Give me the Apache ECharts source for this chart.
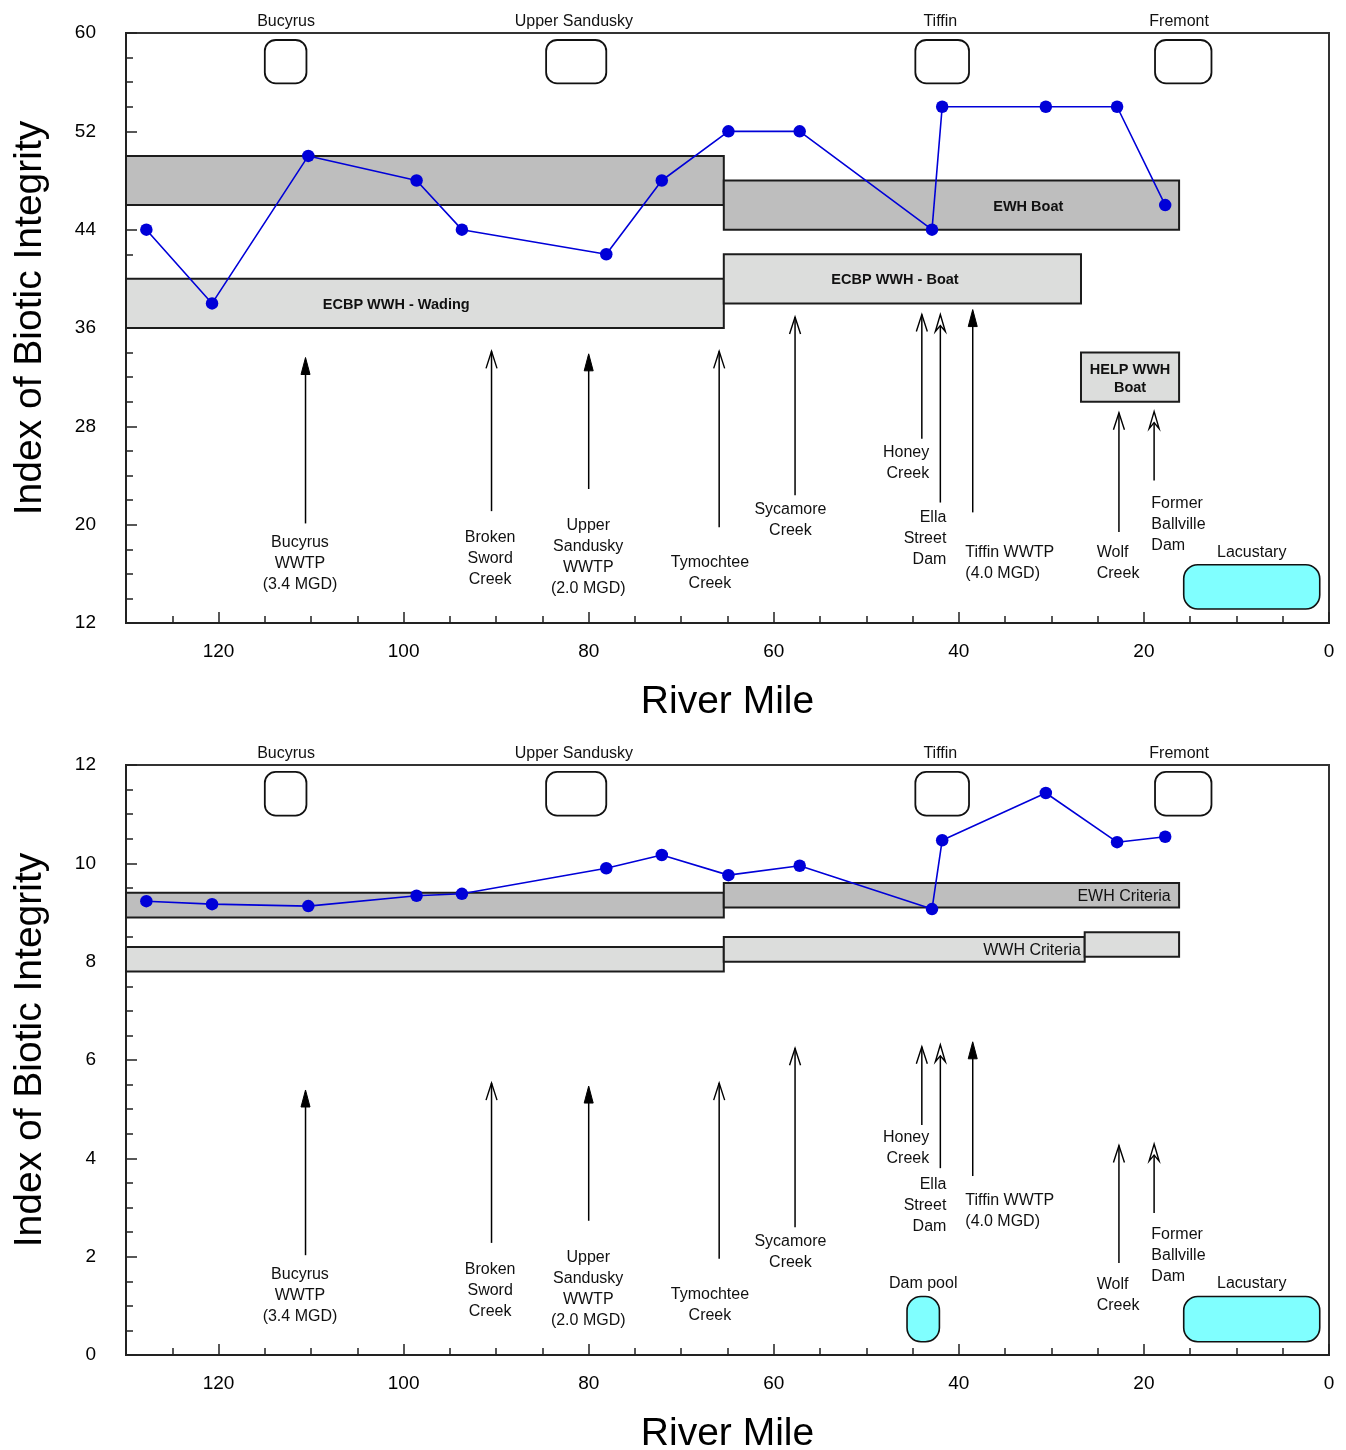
<!DOCTYPE html>
<html>
<head>
<meta charset="utf-8">
<script src="https://cdn.jsdelivr.net/npm/echarts@6/dist/echarts.min.js"></script>
<style>
  html, body { margin: 0; padding: 0; background: #fff; overflow: hidden; }
  #chart { width: 1346px; height: 1450px; }
</style>
</head>
<body>
<div id="chart"></div>
<script>
// ---------------------------------------------------------------------------
// Data
// ---------------------------------------------------------------------------

// Sampling sites by river mile (upstream sites on the left)
const siteMiles = [127.8, 120.7, 110.3, 98.6, 93.7, 78.1, 72.1, 64.9, 57.2, 42.9, 41.8, 30.6, 22.9, 17.7];
// Index scores at each site, upper and lower panel
const upperScores = [44, 38, 50, 48, 44, 42, 48, 52, 52, 44, 54, 54, 54, 46];
const lowerScores = [9.23, 9.17, 9.13, 9.34, 9.38, 9.9, 10.17, 9.76, 9.95, 9.07, 10.47, 11.43, 10.43, 10.54];

// Axis ranges and tick labels
const mileRange = [0, 130];
const mileTicks = [120, 100, 80, 60, 40, 20, 0];
const upperTicks = [12, 20, 28, 36, 44, 52, 60];
const lowerTicks = [0, 2, 4, 6, 8, 10, 12];

// Criteria ranges: [upstream mile, downstream mile, low, high, tier, caption, caption mile]
const upperCriteria = [
  [130, 65.4, 46, 50, 'EWH', '', 0],
  [130, 65.4, 36, 40, 'WWH', 'ECBP WWH - Wading', 100.8],
  [65.4, 16.2, 44, 48, 'EWH', 'EWH Boat', 32.5],
  [65.4, 26.8, 38, 42, 'WWH', 'ECBP WWH - Boat', 46.9],
  [26.8, 16.2, 30, 34, 'WWH', 'HELP WWH\nBoat', 21.5]
];
const lowerCriteria = [
  [130, 65.4, 8.9, 9.4, 'EWH', '', 0],
  [65.4, 16.2, 9.1, 9.6, 'EWH', 'EWH Criteria', 17.1],
  [130, 65.4, 7.8, 8.3, 'WWH', '', 0],
  [65.4, 26.4, 8.0, 8.5, 'WWH', 'WWH Criteria', 26.8],
  [26.4, 16.2, 8.1, 8.6, 'WWH', '', 0]
];

// Towns along the river: [name, upstream mile, downstream mile, caption mile]
const towns = [
  ['Bucyrus', 115.0, 110.5, 112.7],
  ['Upper Sandusky', 84.6, 78.1, 81.6],
  ['Tiffin', 44.7, 38.9, 42.0],
  ['Fremont', 18.8, 12.7, 16.2]
];
// Vertical span of the town markers in each panel
const upperTownSpan = [55.9, 59.43];
const lowerTownSpan = [10.97, 11.86];

// Tributaries, outfalls and dams
const inflowNames = [
  'Bucyrus\nWWTP\n(3.4 MGD)', 'Broken\nSword\nCreek', 'Upper\nSandusky\nWWTP\n(2.0 MGD)',
  'Tymochtee\nCreek', 'Sycamore\nCreek', 'Honey\nCreek', 'Ella\nStreet\nDam',
  'Tiffin WWTP\n(4.0 MGD)', 'Wolf\nCreek', 'Former\nBallville\nDam'
];
const inflowMiles = [110.6, 90.5, 80.0, 65.9, 57.7, 44.0, 42.0, 38.5, 22.7, 18.9];
const inflowKinds = ['outfall', 'tributary', 'outfall', 'tributary', 'tributary',
                     'tributary', 'dam', 'outfall', 'tributary', 'dam'];
// Pointer tail / tip for each inflow, in index units
const upperPointers = [[20.1, 33.6], [21.1, 34.1], [22.9, 33.9], [19.8, 34.1], [22.4, 36.9],
                       [27.0, 37.1], [21.8, 37.1], [21.0, 37.5], [19.4, 29.1], [23.6, 29.2]];
const lowerPointers = [[2.03, 5.39], [2.28, 5.53], [2.73, 5.47], [1.96, 5.53], [2.6, 6.24],
                       [4.68, 6.27], [3.8, 6.31], [3.64, 6.37], [1.87, 4.26], [2.89, 4.29]];
// Caption anchor for each inflow: [mile, value of first line]
const captionAlign = ['center', 'center', 'center', 'center', 'center',
                      'right', 'right', 'left', 'left', 'left'];
const upperCaptions = [[111.2, 18.67], [90.65, 19.08], [80.05, 20.06], [66.9, 17.05], [58.2, 21.36],
                       [43.2, 26.0], [41.35, 20.7], [39.3, 17.86], [25.1, 17.86], [19.2, 21.85]];
const lowerCaptions = [[111.2, 1.67], [90.65, 1.77], [80.05, 2.01], [66.9, 1.26], [58.2, 2.34],
                       [43.2, 4.45], [41.35, 3.5], [39.3, 3.17], [25.1, 1.46], [19.2, 2.48]];

// Impounded / lake-affected reaches: [name, upstream mile, downstream mile, low, high]
const upperPools = [['Lacustary', 15.7, 1.0, 13.14, 16.74]];
const lowerPools = [['Dam pool', 45.6, 42.1, 0.27, 1.19], ['Lacustary', 15.7, 1.0, 0.27, 1.19]];

// ---------------------------------------------------------------------------
// Styling
// ---------------------------------------------------------------------------
const FONT = '"Liberation Sans", Arial, Helvetica, sans-serif';
const INK = '#111';
const BLUE = '#0000d8';
const SHADE = { EWH: '#bebebe', WWH: '#dcdddc' };
const POOL = '#80ffff';
const TEXT_DROP = 1.5;   // small baseline correction for annotation text

const GRID_LEFT = 126, GRID_W = 1203, GRID_H = 590;
const GRID_TOPS = [33, 765];

// ---------------------------------------------------------------------------
// Axes
// ---------------------------------------------------------------------------
function mileAxes(g) {
  return [
    {
      gridIndex: g, type: 'value', position: 'bottom', inverse: true,
      min: mileRange[0], max: mileRange[1], interval: 20,
      axisLine: { show: true, onZero: false, lineStyle: { color: '#222', width: 2 } },
      axisTick: { show: true, inside: true, length: 11, lineStyle: { color: '#222', width: 1.5 } },
      axisLabel: {
        margin: 19, fontSize: 19, color: '#000', fontFamily: FONT,
        formatter: v => (mileTicks.includes(v) ? String(v) : '')
      },
      splitLine: { show: false },
      name: 'River Mile', nameLocation: 'middle', nameGap: 60,
      nameTextStyle: { fontSize: 39, color: '#000', fontFamily: FONT }
    },
    {
      gridIndex: g, type: 'value', position: 'bottom', inverse: true,
      min: mileRange[0], max: mileRange[1], interval: 5,
      axisLine: { show: false, onZero: false },
      axisTick: { show: true, inside: true, length: 7, lineStyle: { color: '#222', width: 1.5 } },
      axisLabel: { show: false },
      splitLine: { show: false }
    }
  ];
}

function scoreAxes(g, ticks, minorStep) {
  return [
    {
      gridIndex: g, type: 'value', position: 'left',
      min: ticks[0], max: ticks[ticks.length - 1], interval: ticks[1] - ticks[0],
      axisLine: { show: true, onZero: false, lineStyle: { color: '#222', width: 2 } },
      axisTick: { show: true, inside: true, length: 11, lineStyle: { color: '#222', width: 1.5 } },
      axisLabel: { margin: 30, fontSize: 19, color: '#000', fontFamily: FONT, padding: [4, 0, 0, 0] },
      splitLine: { show: false },
      name: 'Index of Biotic Integrity', nameLocation: 'middle', nameGap: 76,
      nameTextStyle: { fontSize: 39, color: '#000', fontFamily: FONT, padding: [0, 0, 0, 20] }
    },
    {
      gridIndex: g, type: 'value', position: 'left',
      min: ticks[0], max: ticks[ticks.length - 1], interval: minorStep,
      axisLine: { show: false, onZero: false },
      axisTick: { show: true, inside: true, length: 7, lineStyle: { color: '#222', width: 1.5 } },
      axisLabel: { show: false },
      splitLine: { show: false }
    }
  ];
}

// ---------------------------------------------------------------------------
// Custom layers
// ---------------------------------------------------------------------------
function criteriaLayer(rows, axis, captionFont, captionAlignMode) {
  return {
    type: 'custom', xAxisIndex: axis, yAxisIndex: axis, silent: true, z: 1, clip: false,
    data: rows.map(r => [r[0], r[2], r[1], r[3]]),
    encode: { x: [0, 2], y: [1, 3] },
    renderItem(params, api) {
      const r = rows[params.dataIndex];
      const a = api.coord([r[0], r[3]]);
      const b = api.coord([r[1], r[2]]);
      const children = [{
        type: 'rect',
        shape: { x: a[0], y: a[1], width: b[0] - a[0], height: b[1] - a[1] },
        style: { fill: SHADE[r[4]], stroke: '#1c1c1c', lineWidth: 2 }
      }];
      if (r[5]) {
        const p = api.coord([r[6], (r[2] + r[3]) / 2]);
        children.push({
          type: 'text', x: p[0], y: p[1] + TEXT_DROP,
          style: {
            text: r[5], fill: INK, font: captionFont, lineHeight: 18,
            align: captionAlignMode, verticalAlign: 'middle'
          }
        });
      }
      return { type: 'group', children };
    }
  };
}

function townLayer(span, axis) {
  return {
    type: 'custom', xAxisIndex: axis, yAxisIndex: axis, silent: true, z: 2, clip: false,
    data: towns.map(t => [t[1], span[0], t[2], span[1]]),
    encode: { x: [0, 2], y: [1, 3] },
    renderItem(params, api) {
      const t = towns[params.dataIndex];
      const a = api.coord([t[1], span[1]]);
      const b = api.coord([t[2], span[0]]);
      const c = api.coord([t[3], span[1]]);
      return {
        type: 'group',
        children: [
          {
            type: 'rect',
            shape: { x: a[0], y: a[1], width: b[0] - a[0], height: b[1] - a[1], r: 11 },
            style: { fill: '#fff', stroke: '#111', lineWidth: 1.8 }
          },
          {
            type: 'text', x: c[0], y: a[1] - 19.5 + TEXT_DROP,
            style: { text: t[0], fill: INK, font: '16px ' + FONT, align: 'center', verticalAlign: 'middle' }
          }
        ]
      };
    }
  };
}

function poolLayer(pools, axis) {
  return {
    type: 'custom', xAxisIndex: axis, yAxisIndex: axis, silent: true, z: 2, clip: false,
    data: pools.map(p => [p[1], p[3], p[2], p[4]]),
    encode: { x: [0, 2], y: [1, 3] },
    renderItem(params, api) {
      const p = pools[params.dataIndex];
      const a = api.coord([p[1], p[4]]);
      const b = api.coord([p[2], p[3]]);
      const w = b[0] - a[0], h = b[1] - a[1];
      return {
        type: 'group',
        children: [
          {
            type: 'rect',
            shape: { x: a[0], y: a[1], width: w, height: h, r: Math.min(14, w / 2 - 1) },
            style: { fill: POOL, stroke: '#111', lineWidth: 1.6 }
          },
          {
            type: 'text', x: a[0] + w / 2, y: a[1] - 14 + TEXT_DROP,
            style: { text: p[0], fill: INK, font: '16px ' + FONT, align: 'center', verticalAlign: 'middle' }
          }
        ]
      };
    }
  };
}

function pointerHead(x, tip, kind) {
  const len = 17;
  if (kind === 'outfall') {
    return [
      { type: 'polygon', shape: { points: [[x, tip], [x - 4.5, tip + len], [x + 4.5, tip + len]] },
        style: { fill: '#000', stroke: '#000', lineWidth: 1 } }
    ];
  }
  if (kind === 'dam') {
    return [
      { type: 'polygon', shape: { points: [[x, tip], [x - 5, tip + len], [x, tip + 11], [x + 5, tip + len]] },
        style: { fill: '#fff', stroke: '#000', lineWidth: 1.4 } }
    ];
  }
  return [
    { type: 'polyline', shape: { points: [[x - 5.5, tip + len], [x, tip], [x + 5.5, tip + len]] },
      style: { fill: null, stroke: '#000', lineWidth: 1.4 } }
  ];
}

function inflowLayer(pointers, captions, axis) {
  return {
    type: 'custom', xAxisIndex: axis, yAxisIndex: axis, silent: true, z: 2, clip: false,
    data: inflowMiles.map((m, i) => [m, pointers[i][0], pointers[i][1]]),
    encode: { x: 0, y: [1, 2] },
    renderItem(params, api) {
      const i = params.dataIndex;
      const kind = inflowKinds[i];
      const tail = api.coord([inflowMiles[i], pointers[i][0]]);
      const tip = api.coord([inflowMiles[i], pointers[i][1]]);
      const x = tail[0];
      const shaftEnd = kind === 'outfall' ? tip[1] + 16 : (kind === 'dam' ? tip[1] + 10 : tip[1]);
      const cap = api.coord([captions[i][0], captions[i][1]]);
      return {
        type: 'group',
        children: [
          { type: 'line', shape: { x1: x, y1: tail[1], x2: x, y2: shaftEnd },
            style: { stroke: '#000', lineWidth: 1.5 } },
          ...pointerHead(x, tip[1], kind),
          { type: 'text', x: cap[0], y: cap[1] - 10.5 + TEXT_DROP,
            style: { text: inflowNames[i], fill: INK, font: '16px ' + FONT, lineHeight: 21,
                     align: captionAlign[i], verticalAlign: 'top' } }
        ]
      };
    }
  };
}

function scoreLine(scores, axis) {
  return {
    type: 'line', xAxisIndex: axis, yAxisIndex: axis, z: 5,
    data: siteMiles.map((m, i) => [m, scores[i]]),
    symbol: 'circle', symbolSize: 12.5, showSymbol: true,
    lineStyle: { color: BLUE, width: 1.6 },
    itemStyle: { color: BLUE },
    silent: true
  };
}

// ---------------------------------------------------------------------------
// Chart
// ---------------------------------------------------------------------------
const chart = echarts.init(document.getElementById('chart'), null, { renderer: 'canvas' });

const xAxes = [...mileAxes(0), ...mileAxes(1)];
const yAxes = [...scoreAxes(0, upperTicks, 2), ...scoreAxes(1, lowerTicks, 0.5)];

chart.setOption({
  animation: false,
  backgroundColor: '#fff',
  grid: GRID_TOPS.map(top => ({
    left: GRID_LEFT, top, width: GRID_W, height: GRID_H,
    outerBoundsMode: 'none', containLabel: false,
    show: true, borderColor: '#333', borderWidth: 2, backgroundColor: 'transparent'
  })),
  xAxis: xAxes,
  yAxis: yAxes,
  series: [
    criteriaLayer(upperCriteria, 0, 'bold 14.5px ' + FONT, 'center'),
    townLayer(upperTownSpan, 0),
    poolLayer(upperPools, 0),
    inflowLayer(upperPointers, upperCaptions, 0),
    scoreLine(upperScores, 0),

    criteriaLayer(lowerCriteria, 2, '16px ' + FONT, 'right'),
    townLayer(lowerTownSpan, 2),
    poolLayer(lowerPools, 2),
    inflowLayer(lowerPointers, lowerCaptions, 2),
    scoreLine(lowerScores, 2)
  ]
});
</script>
</body>
</html>
